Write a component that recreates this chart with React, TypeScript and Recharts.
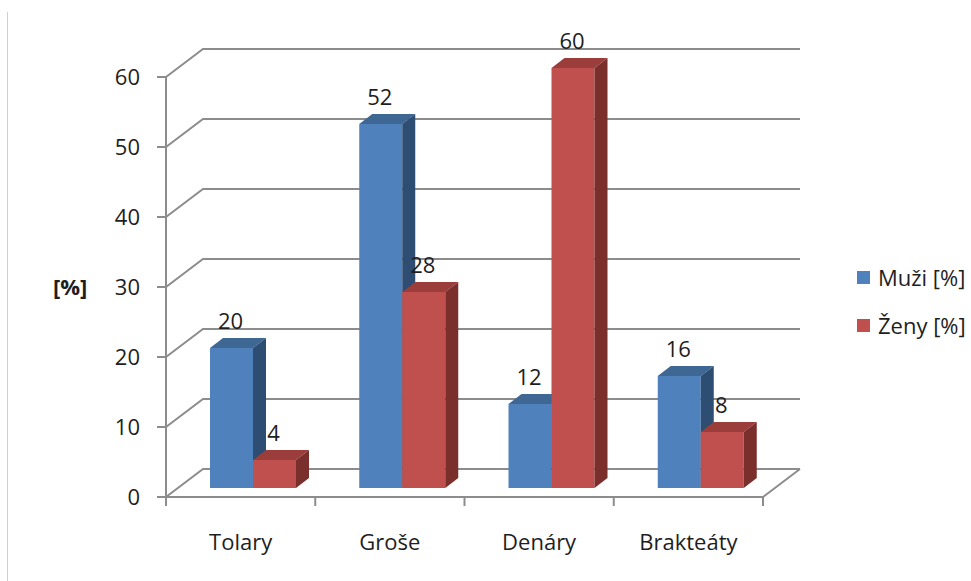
import React from 'react';
import { BarChart, Bar, XAxis, YAxis, CartesianGrid, Legend, LabelList, Label } from 'recharts';

const categories = ['Tolary', 'Groše', 'Denáry', 'Brakteáty'];
const muzi = [20, 52, 12, 16];
const zeny = [4, 28, 60, 8];
const yTicks = [0, 10, 20, 30, 40, 50, 60];
const seriesNames = ['Muži [%]', 'Ženy [%]'];
const yAxisTitle = '[%]';

const data = categories.map((c, i) => ({ name: c, muzi: muzi[i], zeny: zeny[i] }));

const FONT = "'Open Sans', 'Noto Sans', sans-serif";
const GRID = '#8c8c8c';
const TEXT = '#1e1e1e';

// 3D geometry
const WALL_DX = 37;
const WALL_DY = -28;
const BAR_SHIFT_X = 12;
const BAR_SHIFT_Y = -9;
const BAR_DX = 13;
const BAR_DY = -10;

const COLORS = {
  muzi: { front: '#4F81BD', top: '#3E6794', side: '#2E4D72' },
  zeny: { front: '#C0504D', top: '#9B3D3B', side: '#7B2F2D' },
};

const make3DBar = (c: { front: string; top: string; side: string }) => (props: any) => {
  const { x, y, width, height } = props;
  if (x == null || y == null || !width || height == null) return <g />;
  const fx = x + BAR_SHIFT_X;
  const fy = y + BAR_SHIFT_Y;
  const w = width;
  const h = height;
  const top = `${fx},${fy} ${fx + BAR_DX},${fy + BAR_DY} ${fx + w + BAR_DX},${fy + BAR_DY} ${fx + w},${fy}`;
  const side = `${fx + w},${fy} ${fx + w + BAR_DX},${fy + BAR_DY} ${fx + w + BAR_DX},${fy + h + BAR_DY} ${fx + w},${fy + h}`;
  return (
    <g>
      <rect x={fx} y={fy} width={w} height={h} fill={c.front} />
      <polygon points={top} fill={c.top} />
      <polygon points={side} fill={c.side} />
    </g>
  );
};

const gridLine = (props: any) => {
  const { x1, y1, x2, y, height, index } = props;
  const bx1 = x1 + WALL_DX;
  const by = y1 + WALL_DY;
  const bx2 = x2 + WALL_DX;
  const bottom = y != null && height != null ? y + height : 497;
  let d = `M${x1},${y1} L${bx1},${by} L${bx2},${by}`;
  if (Math.abs(y1 - bottom) < 1) {
    d += ` M${x2},${y1} L${bx2},${by}`;
  }
  return <path key={`g-${index}-${y1}`} d={d} stroke={GRID} strokeWidth={2} fill="none" />;
};

const renderValueLabel = (props: any) => {
  const vb = props.viewBox || {};
  const x = props.x ?? vb.x;
  const y = props.y ?? vb.y;
  const width = props.width ?? vb.width;
  const { value } = props;
  if (x == null || y == null) return null;
  const cx = x + BAR_SHIFT_X + width / 2 - 1;
  const cy = y + BAR_SHIFT_Y - 27;
  return (
    <text x={cx} y={cy} dy="0.36em" textAnchor="middle" fontFamily={FONT} fontSize={22} fill={TEXT}>
      {value}
    </text>
  );
};

const XTick = (props: any) => {
  const { x, y, payload, index, visibleTicksCount } = props;
  const half = payload && payload.offset ? payload.offset : 597 / categories.length / 2;
  const left = x - half;
  const right = x + half;
  return (
    <g>
      <line x1={left} y1={y} x2={left} y2={y + 9} stroke={GRID} strokeWidth={2} />
      {index === (visibleTicksCount ?? categories.length) - 1 && (
        <line x1={right} y1={y} x2={right} y2={y + 9} stroke={GRID} strokeWidth={2} />
      )}
      <text x={x} y={y + 45} dy="0.36em" textAnchor="middle" fontFamily={FONT} fontSize={22} fill={TEXT}>
        {payload.value}
      </text>
    </g>
  );
};

const LegendContent = (props: any) => {
  const payload = props.payload || [];
  return (
    <div style={{ fontFamily: FONT, fontSize: 22, color: TEXT }}>
      {payload.map((p: any, i: number) => (
        <div key={i} style={{ display: 'flex', alignItems: 'center', height: 30, marginBottom: i === 0 ? 18 : 0, whiteSpace: 'nowrap' }}>
          <span style={{ display: 'inline-block', width: 13, height: 13, background: p.color, marginRight: 8 }} />
          <span>{p.value}</span>
        </div>
      ))}
    </div>
  );
};

export default function App() {
  return (
    <div style={{ position: 'absolute', left: 0, top: 0, width: 971, height: 581, background: '#fff' }}>
      <div style={{ position: 'absolute', left: 7, top: 12, width: 1, height: 569, background: '#cfcfcf' }} />
      <BarChart
        width={971}
        height={581}
        data={data}
        margin={{ top: 77, right: 208, bottom: 0, left: 0 }}
        barGap={0}
        barSize={43}
      >
        <CartesianGrid vertical={false} horizontal={gridLine} />
        <XAxis
          dataKey="name"
          height={84}
          axisLine={{ stroke: GRID, strokeWidth: 2 }}
          tickLine={false}
          tickSize={0}
          tickMargin={0}
          interval={0}
          tick={<XTick />}
        />
        <YAxis
          width={166}
          domain={[0, 60]}
          ticks={yTicks}
          interval={0}
          axisLine={{ stroke: GRID, strokeWidth: 2 }}
          tickLine={{ stroke: GRID, strokeWidth: 2 }}
          tickSize={9}
          tickMargin={17}
          tick={{ fontFamily: FONT, fontSize: 22, fill: TEXT }}
        >
          <Label
            value={yAxisTitle}
            position="insideLeft"
            offset={53}
            style={{ fontFamily: FONT, fontSize: 22, fontWeight: 'bold', fill: TEXT }}
          />
        </YAxis>
        <Legend
          layout="vertical"
          align="center"
          verticalAlign="middle"
          content={<LegendContent />}
          wrapperStyle={{ left: 857, top: 262, width: 114 }}
        />
        <Bar dataKey="muzi" name={seriesNames[0]} fill={COLORS.muzi.front} shape={make3DBar(COLORS.muzi)} isAnimationActive={false}>
          <LabelList dataKey="muzi" content={renderValueLabel} />
        </Bar>
        <Bar dataKey="zeny" name={seriesNames[1]} fill={COLORS.zeny.front} shape={make3DBar(COLORS.zeny)} isAnimationActive={false}>
          <LabelList dataKey="zeny" content={renderValueLabel} />
        </Bar>
      </BarChart>
    </div>
  );
}
